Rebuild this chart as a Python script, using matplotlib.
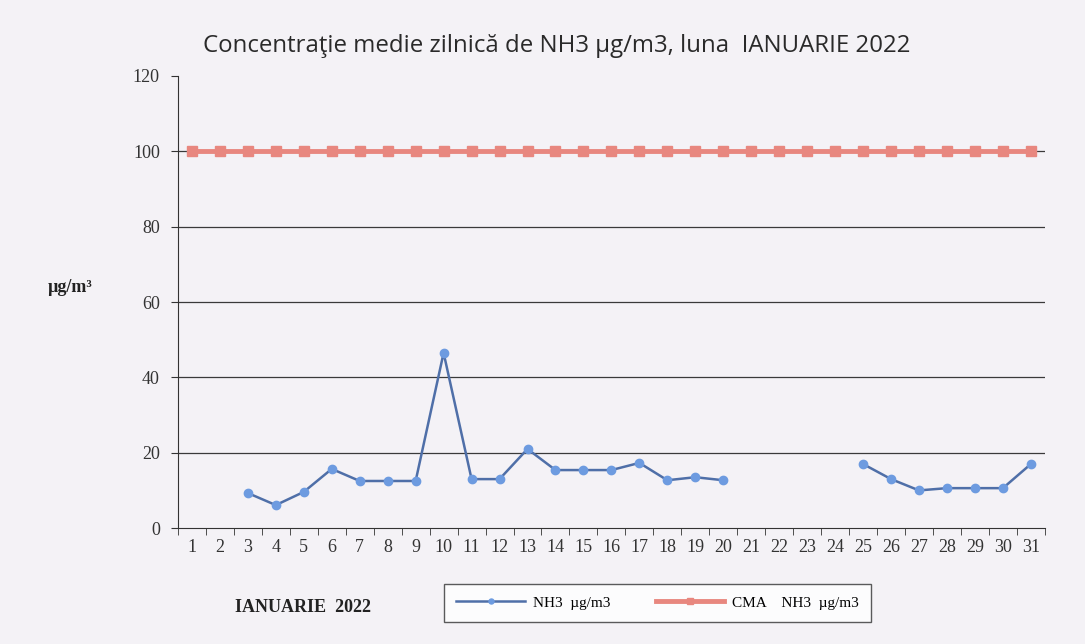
import numpy as np
import matplotlib.pyplot as plt

days = list(range(1, 32))
nh3 = [np.nan, np.nan, 9.3, 6.1, 9.6, 15.7, 12.5, 12.5, 12.5, 46.5,
       13.0, 13.0, 21.0, 15.4, 15.4, 15.4, 17.3, 12.7, 13.5, 12.7,
       np.nan, np.nan, np.nan, np.nan, 17.0, 13.0, 10.0, 10.6, 10.6, 10.6,
       17.0]
cma = [100] * 31
y_ticks = [0, 20, 40, 60, 80, 100, 120]

bg = "#f4f2f6"
fig = plt.figure(figsize=(10.85, 6.44), dpi=100, facecolor=bg)
ax = fig.add_axes([0.164, 0.180, 0.799, 0.702], facecolor=bg)

ax.plot(days, cma, color="#e8877f", linewidth=3.5, marker="s", markersize=7,
        markerfacecolor="#e8877f", markeredgecolor="#e8877f", label="CMA    NH3  µg/m3", zorder=3)
ax.plot(days, nh3, color="#4f6fa8", linewidth=1.8, marker="o", markersize=6,
        markerfacecolor="#6d9be0", markeredgecolor="#6d9be0", label="NH3  µg/m3", zorder=4)

ax.set_xlim(0.5, 31.5)
ax.set_ylim(0, 120)
ax.set_yticks(y_ticks)
ax.set_xticks(days)
ax.set_xticks(np.arange(0.5, 32, 1), minor=True)
ax.tick_params(axis="x", which="major", length=0, pad=8)
ax.tick_params(axis="x", which="minor", length=5, color="#333333")
ax.tick_params(axis="y", length=5, color="#333333", pad=8)
for lab in ax.get_xticklabels() + ax.get_yticklabels():
    lab.set_fontfamily("Liberation Serif")
    lab.set_fontsize(13)
    lab.set_color("#333333")

# horizontal grid lines, none at the top edge
for v in y_ticks[1:-1]:
    ax.axhline(v, color="#3a3a3a", linewidth=0.9, zorder=1)
for side in ["top", "right"]:
    ax.spines[side].set_visible(False)
ax.spines["left"].set_color("#333333")
ax.spines["bottom"].set_color("#333333")

fig.text(0.513, 0.928, "Concentraţie medie zilnică de NH3 µg/m3, luna  IANUARIE 2022",
         ha="center", va="center", fontsize=17.3, family="Open Sans", color="#2a2a2a")
fig.text(0.044, 0.553, "µg/m³", ha="left", va="center", fontsize=13,
         family="Liberation Serif", weight="bold", color="#222222")
fig.text(0.217, 0.057, "IANUARIE  2022", ha="left", va="center", fontsize=13,
         family="Liberation Serif", weight="bold", color="#222222")

h, l = ax.get_legend_handles_labels()
leg = fig.legend(h[::-1], l[::-1], loc="center", bbox_to_anchor=(0.606, 0.064), ncol=2,
                 frameon=True, fancybox=False, edgecolor="#333333", facecolor="white",
                 prop={"family": "Liberation Serif", "size": 11}, handlelength=4.5,
                 markerscale=0.6, columnspacing=3.0, borderpad=0.8, handletextpad=0.5)
leg.get_frame().set_linewidth(1.0)

fig.savefig("out.png", dpi=100, facecolor=bg)
